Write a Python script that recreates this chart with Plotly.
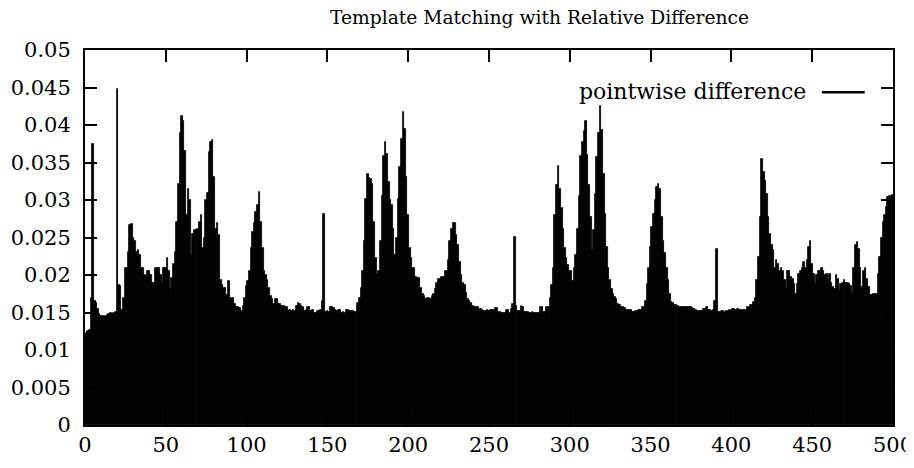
import plotly.graph_objects as go

# pointwise difference values for x = 0 .. 500
vals_000 = [0.0122, 0.0123, 0.0126, 0.0127, 0.0170, 0.0375, 0.0165, 0.0163, 0.0155, 0.0148,
            0.0146, 0.0145, 0.0144, 0.0145, 0.0147, 0.0148, 0.0150, 0.0148, 0.0150, 0.0151]
vals_020 = [0.0448, 0.0187, 0.0185, 0.0154, 0.0170, 0.0209, 0.0210, 0.0231, 0.0267, 0.0268,
            0.0249, 0.0245, 0.0231, 0.0233, 0.0227, 0.0209, 0.0210, 0.0200, 0.0198, 0.0205]
vals_040 = [0.0205, 0.0200, 0.0189, 0.0190, 0.0209, 0.0210, 0.0209, 0.0200, 0.0189, 0.0209,
            0.0209, 0.0223, 0.0205, 0.0181, 0.0196, 0.0215, 0.0231, 0.0271, 0.0322, 0.0390]
vals_060 = [0.0412, 0.0405, 0.0365, 0.0280, 0.0315, 0.0300, 0.0227, 0.0255, 0.0260, 0.0260,
            0.0262, 0.0271, 0.0280, 0.0236, 0.0249, 0.0300, 0.0310, 0.0364, 0.0377, 0.0380]
vals_080 = [0.0331, 0.0262, 0.0270, 0.0253, 0.0194, 0.0187, 0.0183, 0.0183, 0.0174, 0.0192,
            0.0168, 0.0170, 0.0170, 0.0161, 0.0157, 0.0157, 0.0156, 0.0152, 0.0159, 0.0170]
vals_100 = [0.0185, 0.0192, 0.0205, 0.0236, 0.0258, 0.0270, 0.0284, 0.0293, 0.0311, 0.0271,
            0.0236, 0.0205, 0.0200, 0.0194, 0.0183, 0.0172, 0.0168, 0.0161, 0.0168, 0.0168]
vals_120 = [0.0161, 0.0161, 0.0159, 0.0159, 0.0158, 0.0157, 0.0152, 0.0153, 0.0152, 0.0153,
            0.0152, 0.0159, 0.0163, 0.0162, 0.0159, 0.0158, 0.0152, 0.0153, 0.0157, 0.0157]
vals_140 = [0.0152, 0.0153, 0.0150, 0.0150, 0.0152, 0.0152, 0.0153, 0.0165, 0.0281, 0.0151,
            0.0152, 0.0151, 0.0157, 0.0158, 0.0156, 0.0153, 0.0152, 0.0153, 0.0153, 0.0150]
vals_160 = [0.0151, 0.0150, 0.0153, 0.0153, 0.0152, 0.0152, 0.0152, 0.0151, 0.0151, 0.0163,
            0.0170, 0.0183, 0.0205, 0.0245, 0.0302, 0.0335, 0.0330, 0.0328, 0.0322, 0.0271]
vals_180 = [0.0223, 0.0200, 0.0205, 0.0245, 0.0306, 0.0359, 0.0377, 0.0361, 0.0324, 0.0300,
            0.0293, 0.0262, 0.0227, 0.0249, 0.0302, 0.0344, 0.0381, 0.0417, 0.0395, 0.0331]
vals_200 = [0.0280, 0.0236, 0.0223, 0.0209, 0.0209, 0.0198, 0.0196, 0.0196, 0.0183, 0.0175,
            0.0172, 0.0168, 0.0170, 0.0169, 0.0168, 0.0172, 0.0175, 0.0181, 0.0189, 0.0195]
vals_220 = [0.0195, 0.0198, 0.0198, 0.0205, 0.0205, 0.0220, 0.0245, 0.0262, 0.0269, 0.0270,
            0.0253, 0.0240, 0.0218, 0.0200, 0.0190, 0.0187, 0.0176, 0.0168, 0.0165, 0.0163]
vals_240 = [0.0159, 0.0157, 0.0157, 0.0158, 0.0154, 0.0155, 0.0154, 0.0152, 0.0152, 0.0153,
            0.0152, 0.0153, 0.0153, 0.0154, 0.0156, 0.0156, 0.0151, 0.0151, 0.0150, 0.0150]
vals_260 = [0.0150, 0.0153, 0.0153, 0.0150, 0.0155, 0.0161, 0.0251, 0.0159, 0.0152, 0.0152,
            0.0159, 0.0158, 0.0151, 0.0151, 0.0151, 0.0150, 0.0150, 0.0151, 0.0150, 0.0150]
vals_280 = [0.0150, 0.0150, 0.0157, 0.0157, 0.0151, 0.0151, 0.0157, 0.0157, 0.0170, 0.0187,
            0.0209, 0.0280, 0.0320, 0.0346, 0.0315, 0.0289, 0.0262, 0.0236, 0.0223, 0.0214]
vals_300 = [0.0205, 0.0205, 0.0192, 0.0209, 0.0227, 0.0262, 0.0306, 0.0359, 0.0377, 0.0392,
            0.0406, 0.0360, 0.0320, 0.0277, 0.0233, 0.0260, 0.0308, 0.0357, 0.0390, 0.0426]
vals_320 = [0.0393, 0.0335, 0.0282, 0.0237, 0.0210, 0.0193, 0.0182, 0.0175, 0.0171, 0.0168,
            0.0162, 0.0160, 0.0158, 0.0157, 0.0156, 0.0153, 0.0153, 0.0154, 0.0153, 0.0151]
vals_340 = [0.0151, 0.0152, 0.0151, 0.0153, 0.0153, 0.0157, 0.0157, 0.0166, 0.0188, 0.0210,
            0.0237, 0.0264, 0.0282, 0.0300, 0.0317, 0.0322, 0.0315, 0.0277, 0.0246, 0.0230]
vals_360 = [0.0210, 0.0193, 0.0175, 0.0164, 0.0163, 0.0160, 0.0160, 0.0159, 0.0157, 0.0157,
            0.0157, 0.0157, 0.0157, 0.0157, 0.0157, 0.0157, 0.0156, 0.0155, 0.0153, 0.0152]
vals_380 = [0.0152, 0.0152, 0.0152, 0.0155, 0.0155, 0.0157, 0.0153, 0.0153, 0.0152, 0.0153,
            0.0166, 0.0235, 0.0151, 0.0151, 0.0152, 0.0152, 0.0151, 0.0152, 0.0152, 0.0153]
vals_400 = [0.0152, 0.0155, 0.0155, 0.0154, 0.0155, 0.0154, 0.0153, 0.0154, 0.0154, 0.0154,
            0.0157, 0.0157, 0.0160, 0.0160, 0.0164, 0.0170, 0.0193, 0.0224, 0.0277, 0.0355]
vals_420 = [0.0337, 0.0325, 0.0308, 0.0277, 0.0255, 0.0240, 0.0233, 0.0210, 0.0220, 0.0215,
            0.0206, 0.0210, 0.0205, 0.0193, 0.0182, 0.0206, 0.0206, 0.0197, 0.0195, 0.0188]
vals_440 = [0.0175, 0.0188, 0.0202, 0.0205, 0.0210, 0.0217, 0.0210, 0.0220, 0.0238, 0.0246,
            0.0215, 0.0202, 0.0188, 0.0200, 0.0206, 0.0206, 0.0210, 0.0205, 0.0200, 0.0202]
vals_460 = [0.0195, 0.0202, 0.0190, 0.0184, 0.0182, 0.0200, 0.0195, 0.0180, 0.0188, 0.0190,
            0.0193, 0.0190, 0.0190, 0.0188, 0.0186, 0.0175, 0.0210, 0.0240, 0.0244, 0.0235]
vals_480 = [0.0210, 0.0184, 0.0206, 0.0210, 0.0195, 0.0184, 0.0173, 0.0174, 0.0175, 0.0175,
            0.0175, 0.0202, 0.0224, 0.0250, 0.0271, 0.0280, 0.0291, 0.0304, 0.0306, 0.0306,
            0.0307]

values = (vals_000 + vals_020 + vals_040 + vals_060 + vals_080 + vals_100 + vals_120 +
          vals_140 + vals_160 + vals_180 + vals_200 + vals_220 + vals_240 + vals_260 +
          vals_280 + vals_300 + vals_320 + vals_340 + vals_360 + vals_380 + vals_400 +
          vals_420 + vals_440 + vals_460 + vals_480)
xs = list(range(len(values)))

x_ticks = [0, 50, 100, 150, 200, 250, 300, 350, 400, 450, 500]
y_ticks = [0, 0.005, 0.01, 0.015, 0.02, 0.025, 0.03, 0.035, 0.04, 0.045, 0.05]
y_tick_text = ["0", "0.005", "0.01", "0.015", "0.02", "0.025", "0.03", "0.035",
               "0.04", "0.045", "0.05"]

title_text = "Template Matching with Relative Difference"
series_name = "pointwise difference"

FONT = "DejaVu Serif"

fig = go.Figure()
fig.add_trace(go.Bar(
    x=xs, y=values, name=series_name, width=1,
    marker=dict(color="black", line=dict(color="black", width=0.8)),
    showlegend=False,
))

axis_common = dict(
    showgrid=False, zeroline=False, showline=True, linecolor="black", linewidth=2,
    mirror="ticks", ticks="inside", ticklen=12, tickwidth=2, tickcolor="black",
    tickfont=dict(family=FONT, size=21, color="black"), automargin=False,
)

fig.update_layout(
    width=914, height=468,
    margin=dict(l=77, r=29, t=42, b=51),
    paper_bgcolor="white", plot_bgcolor="white",
    bargap=0,
    title=dict(text=title_text, xref="paper", x=0.5625, xanchor="center",
               y=0.98, yanchor="middle",
               font=dict(family=FONT, size=18.7, color="black")),
    xaxis=dict(range=[0, 500], tickvals=x_ticks, ticklabelstandoff=0, **axis_common),
    yaxis=dict(range=[0, 0.05], tickvals=y_ticks, ticktext=y_tick_text,
               ticklabelstandoff=8, **axis_common),
)

# gnuplot-style key: text on the left, line sample on the right
fig.add_annotation(text=series_name, xref="paper", yref="paper", x=0.8948, y=0.889,
                   xanchor="right", yanchor="middle", showarrow=False,
                   font=dict(family=FONT, size=22, color="black"))
fig.add_shape(type="line", xref="paper", yref="paper", x0=0.912, x1=0.965,
              y0=0.8876, y1=0.8876, line=dict(color="black", width=2.5))

fig.write_html("out.html")
